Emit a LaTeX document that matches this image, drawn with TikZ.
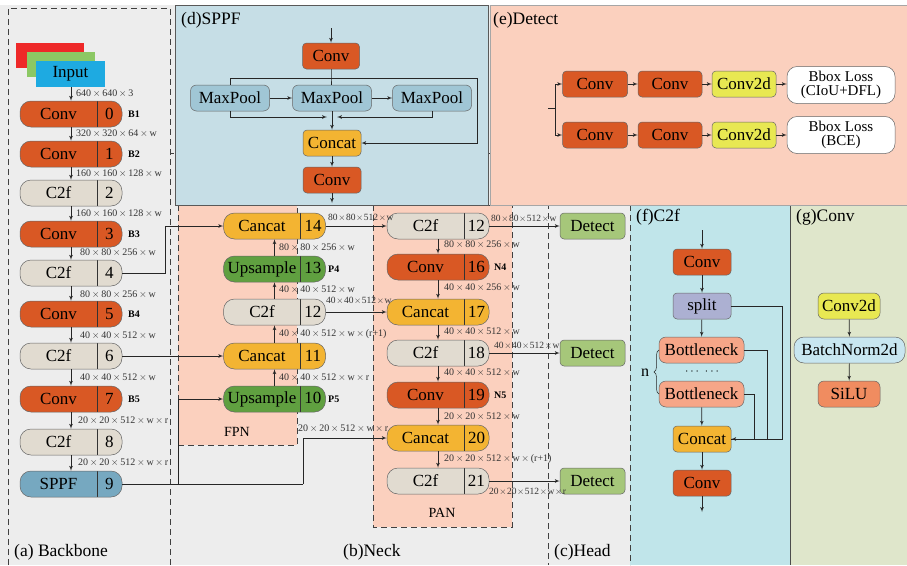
\documentclass[tikz,border=0pt]{standalone}
\usepackage{fontspec}
\setmainfont{Liberation Serif}
\usetikzlibrary{arrows,positioning,calc,decorations.pathreplacing}

\definecolor{bggray}{RGB}{237,237,237}
\definecolor{convc}{RGB}{217,88,36}
\definecolor{c2fc}{RGB}{225,219,208}
\definecolor{sppfc}{RGB}{118,168,192}
\definecolor{catc}{RGB}{243,180,50}
\definecolor{upc}{RGB}{96,160,64}
\definecolor{detc}{RGB}{166,199,122}
\definecolor{poolc}{RGB}{160,198,213}
\definecolor{sppfbg}{RGB}{198,222,230}
\definecolor{salmon}{RGB}{251,208,190}
\definecolor{c2fbg}{RGB}{192,229,234}
\definecolor{convbg}{RGB}{223,230,203}
\definecolor{c2dc}{RGB}{232,232,82}
\definecolor{splitc}{RGB}{172,176,210}
\definecolor{bottc}{RGB}{246,166,136}
\definecolor{siluc}{RGB}{240,140,96}
\definecolor{bnc}{RGB}{200,230,240}
\definecolor{inred}{RGB}{238,40,40}
\definecolor{ingreen}{RGB}{140,200,100}
\definecolor{inblue}{RGB}{30,170,225}

\newcommand{\tm}{\,$\times$\,}
\newcommand{\tn}{\hspace{0.6pt}$\times$\hspace{0.6pt}}
\newcommand{\pl}[2]{\makebox[77pt]{#1}\makebox[25pt]{#2}}

\tikzset{
  blk/.style={draw=black!60, line width=0.5pt, rounded corners=4pt, minimum height=26pt,
    inner sep=2pt, font=\rmfamily\fontsize{17}{17}\selectfont},
  pill/.style={blk, rounded corners=11pt, minimum width=102pt, inner sep=0pt,
    path picture={\draw[black!80] ([xshift=26pt]path picture bounding box.north)
      -- ([xshift=26pt]path picture bounding box.south);}},
  dim/.style={anchor=west, inner sep=0pt, text=black!80, font=\rmfamily\fontsize{10}{10}\selectfont},
  dimt/.style={dim, font=\rmfamily\fontsize{9.5}{10}\selectfont},
  tag/.style={anchor=west, inner sep=0pt, font=\rmfamily\bfseries\fontsize{10}{10}\selectfont},
  sec/.style={anchor=west, inner sep=0pt, font=\rmfamily\fontsize{17.5}{17.5}\selectfont},
  loss/.style={blk, fill=white, rounded corners=10pt, minimum width=108pt, minimum height=37pt,
    inner sep=1pt, align=center, font=\rmfamily\fontsize{15}{14}\selectfont},
  arr/.style={-latex', line width=0.7pt, black!85},
  ln/.style={line width=0.7pt, black!85},
  zone/.style={draw=black!75, line width=0.8pt, dash pattern=on 6pt off 4pt},
}

\begin{document}
\begin{tikzpicture}[x=1pt, y=-1pt]
\useasboundingbox (0,0) rectangle (907,565);

% regions
\fill[bggray] (0,5) rectangle (907,565);
\draw[zone] (8,565) -- (8,8) -- (170,8) -- (170,565);
\draw[zone] (170,565) -- (170,153) -- (548,153) -- (548,565);
\fill[salmon] (178,205) rectangle (297,445);
\draw[zone] (178,205) rectangle (297,445);
\fill[salmon] (373,205) rectangle (512,527);
\draw[zone] (373,205) rectangle (512,527);
\fill[c2fbg] (630,205) rectangle (790,565);
\draw[zone] (630,205) -- (630,565);
\draw[black!70, line width=0.7pt] (790,205) -- (790,565);
\fill[convbg] (791,205) rectangle (907,565);
\draw[black!65, line width=0.7pt, fill=sppfbg] (175,5) rectangle (488,205);
\draw[black!35, line width=0.7pt, fill=salmon] (490,5) rectangle (907,205);

% backbone
\node[draw=none, fill=inred, minimum width=68pt, minimum height=25pt] (inr) at (50,55.5) {};
\node[draw=none, fill=ingreen, minimum width=68pt, minimum height=25pt] (ing) at (60.5,64.5) {};
\node[draw=none, fill=inblue, minimum width=69pt, minimum height=26pt,
  font=\rmfamily\fontsize{17}{17}\selectfont] (inp) at (70.5,74) {Input};
\node[pill, fill=convc] (b0) at (71,114) {\pl{Conv}{0}};
\node[pill, fill=convc] (b1) at (71,154) {\pl{Conv}{1}};
\node[pill, fill=c2fc] (b2) at (71,193) {\pl{C2f}{2}};
\node[pill, fill=convc] (b3) at (71,234) {\pl{Conv}{3}};
\node[pill, fill=c2fc] (b4) at (71,273) {\pl{C2f}{4}};
\node[pill, fill=convc] (b5) at (71,314) {\pl{Conv}{5}};
\node[pill, fill=c2fc] (b6) at (71,356) {\pl{C2f}{6}};
\node[pill, fill=convc] (b7) at (71,399) {\pl{Conv}{7}};
\node[pill, fill=c2fc] (b8) at (71,442) {\pl{C2f}{8}};
\node[pill, fill=sppfc] (b9) at (71,484) {\pl{SPPF}{9}};

\draw[arr] (inp.south -| b0) -- (b0);
\draw[arr] (b0) -- (b1);
\draw[arr] (b1) -- (b2);
\draw[arr] (b2) -- (b3);
\draw[arr] (b3) -- (b4);
\draw[arr] (b4) -- (b5);
\draw[arr] (b5) -- (b6);
\draw[arr] (b6) -- (b7);
\draw[arr] (b7) -- (b8);
\draw[arr] (b8) -- (b9);

\node[dim] (d0) at (76,94) {640\tm640\tm3};
\node[dim] (d1) at (76,134) {320\tm320\tm64\tm w};
\node[dim] (d2) at (76,174) {160\tm160\tm128\tm w};
\node[dim] (d3) at (76,214) {160\tm160\tm128\tm w};
\node[dim] (d4) at (80,253) {80\tm80\tm256\tm w};
\node[dim] (d5) at (80,295) {80\tm80\tm256\tm w};
\node[dim] (d6) at (80,336) {40\tm40\tm512\tm w};
\node[dim] (d7) at (80,378) {40\tm40\tm512\tm w};
\node[dim] (d8) at (78,421) {20\tm20\tm512\tm w\tm r};
\node[dim] (d9) at (78,463) {20\tm20\tm512\tm w\tm r};
\node[tag] (t1) at (128,114) {B1};
\node[tag] (t2) at (128,154) {B2};
\node[tag] (t3) at (128,234) {B3};
\node[tag] (t4) at (128,314) {B4};
\node[tag] (t5) at (128,399) {B5};

% SPPF
\coordinate (sin) at (331,28);
\node[blk, fill=convc, minimum width=57pt] (sc1) at (331,56) {Conv};
\node[blk, fill=poolc, rounded corners=6pt, minimum width=79pt] (mp1) at (230,98) {MaxPool};
\node[blk, fill=poolc, rounded corners=6pt, minimum width=79pt] (mp2) at (332,98) {MaxPool};
\node[blk, fill=poolc, rounded corners=6pt, minimum width=79pt] (mp3) at (432,98) {MaxPool};
\node[blk, fill=catc, minimum width=58pt] (scat) at (332,143) {Concat};
\node[blk, fill=convc, minimum width=58pt] (sc2) at (332,180) {Conv};
\coordinate (sout) at (332,203);
\coordinate (st) at (331,78);
\coordinate (sl) at (230,78);
\coordinate (sr) at (477,78);
\coordinate (sb) at (332,117);
\draw[arr] (sin) -- (sc1);
\draw[ln] (sc1.south) -- (st) -- (mp2.north -| st);
\draw[ln] (sl) -- (sr);
\draw[ln] (sl) -- (mp1.north);
\draw[arr] (sr) |- (scat.east);
\draw[arr] (mp1) -- (mp2);
\draw[arr] (mp2) -- (mp3);
\draw[arr, shorten >=5pt] (mp1.south) |- (sb);
\draw[arr, shorten >=5pt] (mp3.south) |- (sb);
\draw[arr] (mp2) -- (scat);
\draw[arr] (scat) -- (sc2);
\draw[arr] (sc2) -- (sout);

% Detect
\coordinate (din) at (548,108);
\coordinate (dsp) at (555,108);
\node[blk, fill=convc, minimum width=65pt] (dc1) at (595,84) {Conv};
\node[blk, fill=convc, minimum width=64pt] (dc2) at (670,84) {Conv};
\node[blk, fill=c2dc, minimum width=64pt] (dd1) at (744,84) {Conv2d};
\node[loss] (bl1) at (841,85) {Bbox Loss\\(CIoU+DFL)};
\node[blk, fill=convc, minimum width=65pt] (dc3) at (595,135) {Conv};
\node[blk, fill=convc, minimum width=64pt] (dc4) at (670,135) {Conv};
\node[blk, fill=c2dc, minimum width=64pt] (dd2) at (744,135) {Conv2d};
\node[loss] (bl2) at (841,135) {Bbox Loss\\(BCE)};
\draw[ln] (din) -- (dsp);
\draw[arr] (dsp) |- (dc1.west);
\draw[arr] (dsp) |- (dc3.west);
\draw[arr] (dc1) -- (dc2);
\draw[arr] (dc2) -- (dd1);
\draw[arr] (dd1) -- (bl1.west |- dd1);
\draw[arr] (dc3) -- (dc4);
\draw[arr] (dc4) -- (dd2);
\draw[arr] (dd2) -- (bl2);

% FPN
\node[pill, fill=catc] (f14) at (274.5,226) {\pl{Cancat}{14}};
\node[pill, fill=upc] (f13) at (274.5,269) {\pl{Upsample}{13}};
\node[pill, fill=c2fc] (f12) at (274.5,312) {\pl{C2f}{12}};
\node[pill, fill=catc] (f11) at (274.5,356) {\pl{Cancat}{11}};
\node[pill, fill=upc] (f10) at (274.5,399) {\pl{Upsample}{10}};
\draw[arr] (f10) -- (f11);
\draw[arr] (f11) -- (f12);
\draw[arr] (f12) -- (f13);
\draw[arr] (f13) -- (f14);
\node[dim] (e13) at (279,248) {80\tm80\tm256\tm w};
\node[dim] (e12) at (279,290) {40\tm40\tm512\tm w};
\node[dim] (e11) at (279,334) {40\tm40\tm512\tm w\tm(r+1)};
\node[dim] (e10) at (279,378) {40\tm40\tm512\tm w\tm r};
\node[tag] (tp4) at (328,269) {P4};
\node[tag] (tp5) at (328,399) {P5};
\node[font=\rmfamily\fontsize{14}{14}\selectfont] (fpn) at (237,432) {FPN};

% PAN
\node[pill, fill=c2fc] (p12) at (438,226) {\pl{C2f}{12}};
\node[pill, fill=convc] (p16) at (438,267) {\pl{Conv}{16}};
\node[pill, fill=catc] (p17) at (438,312) {\pl{Cancat}{17}};
\node[pill, fill=c2fc] (p18) at (438,353) {\pl{C2f}{18}};
\node[pill, fill=convc] (p19) at (438,395) {\pl{Conv}{19}};
\node[pill, fill=catc] (p20) at (438,438) {\pl{Cancat}{20}};
\node[pill, fill=c2fc] (p21) at (438,481) {\pl{C2f}{21}};
\draw[arr] (p12) -- (p16);
\draw[arr] (p16) -- (p17);
\draw[arr] (p17) -- (p18);
\draw[arr] (p18) -- (p19);
\draw[arr] (p19) -- (p20);
\draw[arr] (p20) -- (p21);
\node[dim] (g16) at (444,245) {80\tm80\tm256\tm w};
\node[dim] (g17) at (444,288) {40\tm40\tm256\tm w};
\node[dim] (g18) at (444,332) {40\tm40\tm512\tm w};
\node[dim] (g19) at (444,373) {40\tm40\tm512\tm w};
\node[dim] (g20) at (444,417) {20\tm20\tm512\tm w};
\node[dim] (g21) at (444,459) {20\tm20\tm512\tm w\tm(r+1)};
\node[tag] (tn4) at (494,267) {N4};
\node[tag] (tn5) at (494,395) {N5};
\node[font=\rmfamily\fontsize{14}{14}\selectfont] (pan) at (442,513) {PAN};

% neck links
\coordinate (j9) at (178,484);
\coordinate (j20) at (303,484);
\draw[arr] (b4.east) -- ++(43,0) |- (f14.west);
\draw[arr] (b6.east) -- (f11.west);
\draw[ln] (b9.east) -- (j20);
\draw[arr] (j9) |- (f10.west);
\draw[arr] (j20) |- (p20.west);
\draw[arr] (f14.east) -- (p12.west);
\draw[arr] (f12.east) -- (p17.west);
\node[dimt] (k14) at (328,218) {80\tn80\tn512\tn w};
\node[dimt] (k12) at (326,301) {40\tn40\tn512\tn w};
\node[dim] (k9) at (298,429) {20\tm20\tm512\tm w\tm r};

% Head
\node[blk, fill=detc, minimum width=65pt] (hd1) at (592.5,226) {Detect};
\node[blk, fill=detc, minimum width=65pt] (hd2) at (592.5,353) {Detect};
\node[blk, fill=detc, minimum width=65pt] (hd3) at (592.5,481) {Detect};
\draw[arr] (p12.east) -- (hd1.west);
\draw[arr] (p18.east) -- (hd2.west);
\draw[arr] (p21.east) -- (hd3.west);
\node[dimt] (h1) at (491,219) {80\tn80\tn512\tn w};
\node[dimt] (h2) at (494,346) {40\tn40\tn512\tn w};
\node[dimt] (h3) at (489,492) {20\tn20\tn512\tn w\tn r};

% C2f
\coordinate (fin) at (702,230);
\coordinate (fout) at (702,512);
\node[blk, fill=convc, minimum width=58pt] (fc1) at (702,262) {Conv};
\node[blk, fill=splitc, minimum width=58pt] (fsp) at (702,306) {split};
\node[blk, fill=bottc, rounded corners=7pt, minimum width=85pt] (fb1) at (701.5,350) {Bottleneck};
\node[inner sep=0pt, font=\fontsize{12}{12}\selectfont] (fdots) at (702,372) {$\cdots$\ \ $\cdots$};
\node[blk, fill=bottc, rounded corners=7pt, minimum width=85pt] (fb2) at (701.5,394) {Bottleneck};
\node[blk, fill=catc, minimum width=58pt] (fcat) at (702,439) {Concat};
\node[blk, fill=convc, minimum width=58pt] (fc2) at (702,483) {Conv};
\node[font=\rmfamily\fontsize{16}{16}\selectfont, inner sep=0pt] (fn) at (645,373) {n};
\draw[arr] (fin) -- (fc1);
\draw[arr] (fc1) -- (fsp);
\draw[arr] (fsp) -- (fb1);
\draw[arr] (fb2) -- (fcat);
\draw[arr] (fcat) -- (fc2);
\draw[arr] (fc2) -- (fout);
\draw[arr] (fsp.east) -- ++(51,0) |- (fcat.east);
\draw[ln] (fb1.east) -- ++(23,0) |- (fcat.east);
\draw[ln] (fb2.east) -- ++(10,0) |- (fcat.east);
\draw[ln, line width=0.5pt, decorate, decoration={brace, amplitude=5pt}] (659,394) -- (659,350);

% Conv
\node[blk, fill=c2dc, rounded corners=6pt, minimum width=62pt] (gc) at (849,306) {Conv2d};
\node[blk, fill=bnc, rounded corners=10pt, minimum width=111pt] (gbn) at (849.5,350) {BatchNorm2d};
\node[blk, fill=siluc, rounded corners=6pt, minimum width=62pt] (gsi) at (849,394) {SiLU};
\draw[arr] (gc) -- (gbn);
\draw[arr] (gbn) -- (gsi);

% section labels
\node[sec] (la) at (14,552) {(a) Backbone};
\node[sec] (lb) at (343,552) {(b)Neck};
\node[sec] (lc) at (554,552) {(c)Head};
\node[sec] (ld) at (181,20) {(d)SPPF};
\node[sec] (le) at (493,20) {(e)Detect};
\node[sec] (lf) at (636,217) {(f)C2f};
\node[sec] (lg) at (796,217) {(g)Conv};
\end{tikzpicture}
\end{document}
